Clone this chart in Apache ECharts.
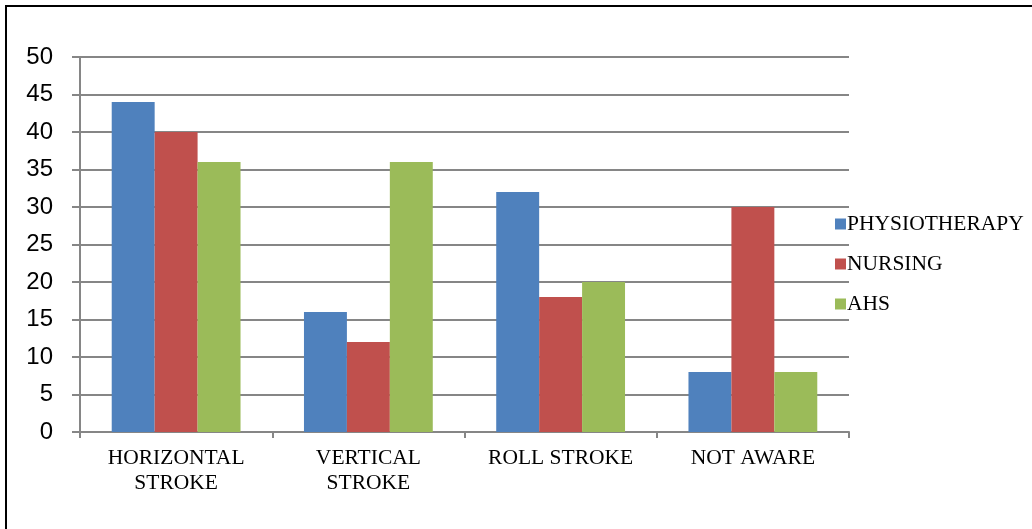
<!DOCTYPE html>
<html>
<head>
<meta charset="utf-8">
<style>
html,body{margin:0;padding:0;background:#fff;}
#frame{position:absolute;left:5px;top:5px;width:1040px;height:540px;border-left:2px solid #000;border-top:2px solid #000;}
#chart{position:absolute;left:0;top:0;width:1032px;height:529px;}
</style>
<script src="https://cdn.jsdelivr.net/npm/echarts@6/dist/echarts.min.js"></script>
</head>
<body>
<div id="frame"></div>
<div id="chart"></div>
<script>
const categories = ['HORIZONTAL\nSTROKE', 'VERTICAL\nSTROKE', 'ROLL STROKE', 'NOT AWARE'];
const physiotherapy = [44, 16, 32, 8];
const nursing = [40, 12, 18, 30];
const ahs = [36, 36, 20, 8];
const seriesNames = ['PHYSIOTHERAPY', 'NURSING', 'AHS'];
const yTicks = { min: 0, max: 50, interval: 5 };

const colors = ['#4F81BD', '#C0504D', '#9BBB59'];
const chart = echarts.init(document.getElementById('chart'));
const dataSets = [physiotherapy, nursing, ahs];
chart.setOption({
  animation: false,
  color: colors,
  grid: { left: 80, right: 183, top: 57, bottom: 97, containLabel: false },
  legend: {
    orient: 'vertical',
    left: 830,
    top: 208,
    itemWidth: 11,
    itemHeight: 11,
    itemGap: 18,
    icon: 'rect',
    textStyle: { fontFamily: 'Liberation Serif', fontSize: 21.5, color: '#000', padding: [0,0,0,-4] },
    data: seriesNames
  },
  xAxis: {
    type: 'category',
    data: categories,
    axisLine: { lineStyle: { color: '#868686', width: 2 } },
    axisTick: { show: true, length: 6, lineStyle: { color: '#868686', width: 2 } },
    axisLabel: { fontFamily: 'Liberation Serif', fontSize: 21.5, color: '#000', lineHeight: 25, margin: 14 }
  },
  yAxis: {
    type: 'value',
    min: yTicks.min, max: yTicks.max, interval: yTicks.interval,
    axisLine: { show: true, lineStyle: { color: '#868686', width: 2 } },
    axisTick: { show: true, length: 8, lineStyle: { color: '#868686', width: 2 } },
    splitLine: { lineStyle: { color: '#868686', width: 2 } },
    axisLabel: { fontFamily: 'Liberation Sans', fontSize: 24, color: '#000', margin: 27 }
  },
  series: seriesNames.map((n, i) => ({
    name: n,
    type: 'bar',
    data: dataSets[i],
    barGap: '0%',
    barCategoryGap: '33%'
  }))
});
</script>
</body>
</html>
